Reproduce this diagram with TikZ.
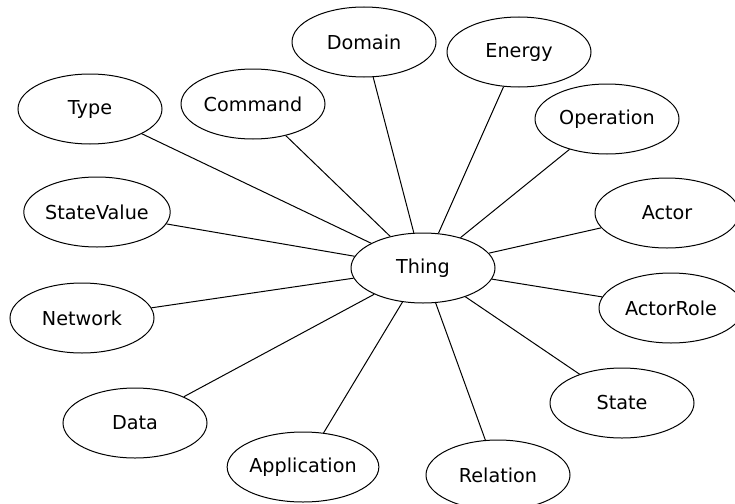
\documentclass[tikz,border=0pt]{standalone}
\usepackage{fontspec}
\setmainfont{DejaVu Sans}
\usetikzlibrary{shapes.geometric}
\begin{document}
\begin{tikzpicture}[x=1pt,y=-1pt,
  ent/.style={draw=black, line width=1pt, ellipse, inner sep=0pt,
    minimum width=144pt, minimum height=70pt,
    font=\fontsize{19.2}{22}\selectfont},
  link/.style={draw=black, line width=1pt}]
\useasboundingbox (0,0) rectangle (735,503);
\node[ent] (thing) at (423,268) {Thing};
\node[ent] (domain) at (364,42) {Domain};
\node[ent] (energy) at (519,52) {Energy};
\node[ent] (type) at (90,109) {Type};
\node[ent] (command) at (253,104) {Command};
\node[ent] (operation) at (607,119) {Operation};
\node[ent] (statevalue) at (97,212) {StateValue};
\node[ent] (actor) at (667,213) {Actor};
\node[ent] (network) at (82,318) {Network};
\node[ent] (actorrole) at (671,308) {ActorRole};
\node[ent] (data) at (135,423) {Data};
\node[ent] (state) at (622,403) {State};
\node[ent] (application) at (303,467) {Application};
\node[ent] (relation) at (498,475) {Relation};
\foreach \n in {domain,energy,type,command,operation,statevalue,actor,network,actorrole,data,state,application,relation}
  \draw[link] (thing) -- (\n);
\end{tikzpicture}
\end{document}
